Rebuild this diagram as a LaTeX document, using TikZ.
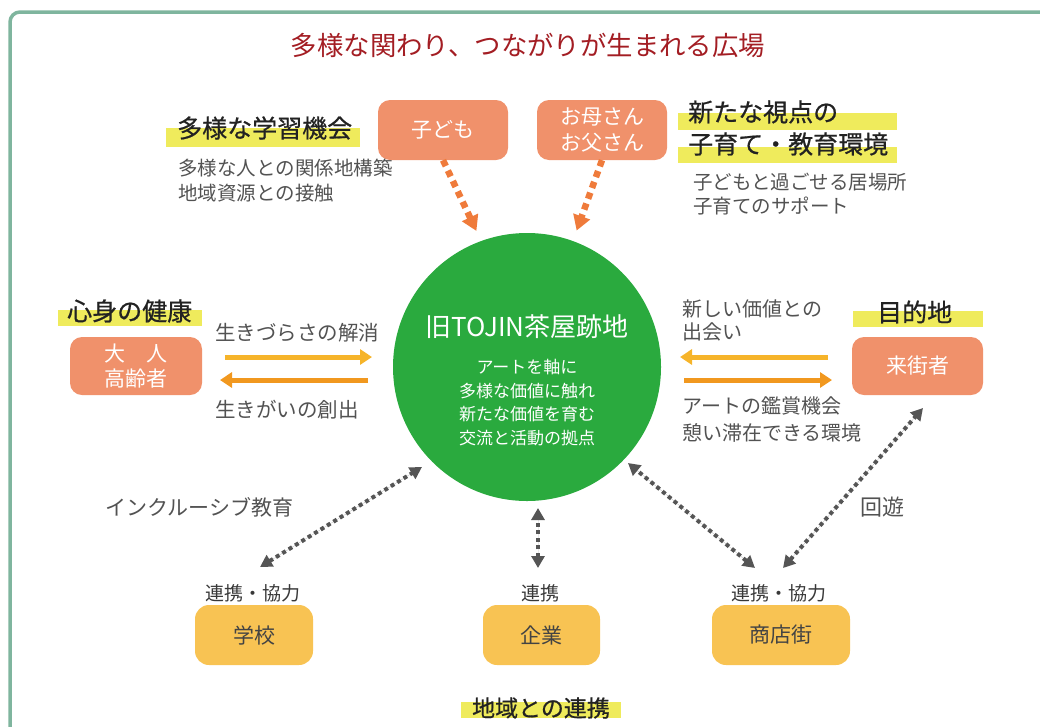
\documentclass[tikz,border=0pt]{standalone}
\usepackage{fontspec}
\setmainfont{Noto Sans CJK JP}
\newfontfamily\jpbold[FakeBold=0.7]{Noto Sans CJK JP}
\usetikzlibrary{arrows.meta}
\definecolor{frameg}{HTML}{7FB59E}
\definecolor{titlered}{HTML}{A31D23}
\definecolor{boxorange}{HTML}{F0916B}
\definecolor{arroworange}{HTML}{EF7B3B}
\definecolor{hubgreen}{HTML}{2AAA3E}
\definecolor{hlyellow}{HTML}{EFEB5C}
\definecolor{boxyellow}{HTML}{F8C353}
\definecolor{arrowlight}{HTML}{F6B42A}
\definecolor{arrowdark}{HTML}{F1981F}
\definecolor{dotgray}{HTML}{555555}
\definecolor{txtgray}{HTML}{525252}
\definecolor{txtdark}{HTML}{222222}
\newcommand\fsz[2]{\fontsize{#1}{#2}\selectfont}
\tikzset{
  obox/.style={fill=boxorange, rounded corners=12pt, text=white, align=center, font=\fsz{21}{25.5}, inner sep=0pt},
  ybox/.style={fill=boxyellow, rounded corners=14pt, text=txtdark!85, font=\fsz{21}{26}, inner sep=0pt, minimum height=60pt},
  headtxt/.style={font=\jpbold\fsz{25}{32}, text=txtdark, inner sep=0pt, anchor=west},
  subtxt/.style={font=\fsz{19.5}{25}, text=txtgray, inner sep=0pt, align=left, anchor=west},
  hl/.style={fill=hlyellow},
  oarrow/.style={draw=arroworange, line width=6.5pt, dash pattern=on 6.5pt off 5pt, -{Triangle[length=15pt,width=17pt]}, shorten >=11pt},
  sarrow/.style={line width=5pt, -{Triangle[length=12pt,width=15pt]}},
  darrow/.style={draw=dotgray, line width=4pt, dash pattern=on 4pt off 3.5pt, {Triangle[length=12pt,width=13pt]}-{Triangle[length=12pt,width=13pt]}},
  lbl/.style={font=\fsz{19}{24}, text=txtdark!90, inner sep=0pt}
}
\begin{document}
\begin{tikzpicture}[x=1pt,y=-1pt]
\useasboundingbox (0,0) rectangle (1040,726);
\clip (0,0) rectangle (1040,726);
% frame
\draw[frameg, line width=3.5pt, rounded corners=10pt] (10,12) rectangle (1070,760);
% title
\node[font=\fsz{26.4}{30}, text=titlered, inner sep=0pt] (title) at (528,45) {多様な関わり、つながりが生まれる広場};
% highlights
\fill[hl] (166,128) rectangle (360,147);
\fill[hl] (678,113) rectangle (897,130);
\fill[hl] (678,147) rectangle (897,163);
\fill[hl] (58,310) rectangle (202,326);
\fill[hl] (853,311) rectangle (983,327);
\fill[hl] (461,702) rectangle (621,718);
% hub
\node[circle, fill=hubgreen, minimum size=268pt, inner sep=0pt] (hub) at (527,367) {};
\node[font=\fsz{26}{30}, text=white, inner sep=0pt] (hubtitle) at (527,327) {旧TOJIN茶屋跡地};
\node[font=\fsz{17}{23.6}, text=white, align=center, inner sep=0pt] (hubtext) at (527,402.5) {アートを軸に\\多様な価値に触れ\\新たな価値を育む\\交流と活動の拠点};
% orange boxes
\node[obox, minimum width=130pt, minimum height=60pt] (kid) at (443,130) {子ども};
\node[obox, minimum width=130pt, minimum height=60pt] (mom) at (602,130) {お母さん\\お父さん};
\node[obox, minimum width=132pt, minimum height=58pt] (elder) at (136,366) {大\hspace{1em}人\\高齢者};
\node[obox, minimum width=131pt, minimum height=58pt] (visitor) at (917.5,366) {来街者};
% yellow boxes
\node[ybox, minimum width=118pt] (school) at (254,635) {学校};
\node[ybox, minimum width=117pt] (company) at (541.5,635) {企業};
\node[ybox, minimum width=138pt] (shop) at (781,635) {商店街};
% headings
\node[headtxt] (h1) at (177,128) {多様な学習機会};
\node[subtxt] (s1) at (178,181) {多様な人との関係地構築\\地域資源との接触};
\node[headtxt] (h2a) at (688,112) {新たな視点の};
\node[headtxt] (h2b) at (688,144) {子育て・教育環境};
\node[subtxt, font=\fsz{19.5}{24}] (s2) at (693,194) {子どもと過ごせる居場所\\子育てのサポート};
\node[headtxt] (h3) at (67,311) {心身の健康};
\node[headtxt] (h4) at (877,312) {目的地};
\node[headtxt, anchor=center, font=\jpbold\fsz{23}{28}] (h5) at (541,708) {地域との連携};
% side labels
\node[subtxt, font=\fsz{20.5}{25}] (l1) at (215,333) {生きづらさの解消};
\node[subtxt, font=\fsz{20.5}{25}] (l2) at (215,410) {生きがいの創出};
\node[subtxt, font=\fsz{20}{23}] (r1) at (682,320) {新しい価値との\\出会い};
\node[subtxt, font=\fsz{20}{27}] (r2) at (682,419.5) {アートの鑑賞機会\\憩い滞在できる環境};
\node[subtxt, font=\fsz{21}{25}] (incl) at (105,507) {インクルーシブ教育};
\node[subtxt, font=\fsz{22}{25}] (kaiyu) at (860,507) {回遊};
\node[lbl] (sl) at (253,593) {連携・協力};
\node[lbl] (cl) at (540,593) {連携};
\node[lbl] (shl) at (779,593) {連携・協力};
% coordinates for free ends
\coordinate (la1) at (225,357); \coordinate (la2) at (372,357);
\coordinate (lb1) at (368,380); \coordinate (lb2) at (220,380);
\coordinate (ra1) at (828,357); \coordinate (ra2) at (680,357);
\coordinate (rb1) at (684,380); \coordinate (rb2) at (832,380);
\coordinate (sa) at (260,567); \coordinate (sb) at (422,467);
\coordinate (ca) at (538,568); \coordinate (cb) at (538,508);
\coordinate (pa) at (755,568); \coordinate (pb) at (628,463);
\coordinate (va) at (783,568); \coordinate (vb) at (923,408);
% connectors
\draw[oarrow] (kid.south) -- (hub.110);
\draw[oarrow] (mom.south) -- (hub.70);
\draw[sarrow, draw=arrowlight, arrowlight] (la1) -- (la2);
\draw[sarrow, draw=arrowdark, arrowdark] (lb1) -- (lb2);
\draw[sarrow, draw=arrowlight, arrowlight] (ra1) -- (ra2);
\draw[sarrow, draw=arrowdark, arrowdark] (rb1) -- (rb2);
\draw[darrow, fill=dotgray] (sa) -- (sb);
\draw[darrow, fill=dotgray] (ca) -- (cb);
\draw[darrow, fill=dotgray] (pa) -- (pb);
\draw[darrow, fill=dotgray] (va) -- (vb);
\end{tikzpicture}
\end{document}
